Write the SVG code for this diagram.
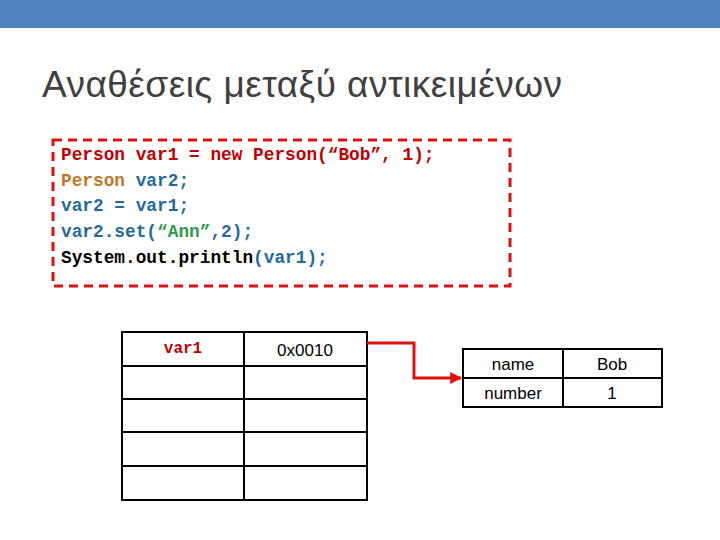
<svg xmlns="http://www.w3.org/2000/svg" width="720" height="540" viewBox="0 0 720 540">
<defs>
<style>
.code{font-family:"Liberation Mono",monospace;font-weight:bold;font-size:17.8px}
.r{fill:#C00000}.o{fill:#C0762A}.b{fill:#1F6B9C}.g{fill:#2E9D4E}.k{fill:#000}
.cell{fill:#fff;stroke:#000;stroke-width:2}
.t{font-family:"Liberation Sans",Arial,sans-serif;font-size:17px;fill:#000;text-anchor:middle}
</style>
<marker id="ah" viewBox="0 0 10 10" refX="9" refY="5" markerWidth="4" markerHeight="4" orient="auto"><path d="M0,0L10,5L0,10z" fill="#E01010"/></marker>
</defs>
<rect width="720" height="540" fill="#fff"/>
<rect x="0" y="0" width="720" height="28" fill="#4F81BD"/>
<text x="42" y="97" font-family="Liberation Sans,Arial,sans-serif" font-size="37" fill="#404040" textLength="520">Αναθέσεις μεταξύ αντικειμένων</text>
<g id="code">
<rect x="53" y="140" width="457" height="146" fill="none" stroke="#E01010" stroke-width="3" stroke-dasharray="9,6"/>
<text class="code" x="61" y="160"><tspan class="r">Person var1 = new Person(“Bob”, 1);</tspan></text>
<text class="code" x="61" y="186"><tspan class="o">Person </tspan><tspan class="b">var2;</tspan></text>
<text class="code b" x="61" y="211">var2 = var1;</text>
<text class="code" x="61" y="237"><tspan class="b">var2.set(</tspan><tspan class="g">“Ann”</tspan><tspan class="b">,2);</tspan></text>
<text class="code" x="61" y="263"><tspan class="k">System.out.println</tspan><tspan class="b">(var1);</tspan></text>
</g>
<g id="stack">
<rect class="cell" x="122" y="332" width="122" height="34"/><rect class="cell" x="244" y="332" width="123" height="34"/>
<rect class="cell" x="122" y="366" width="122" height="33"/><rect class="cell" x="244" y="366" width="123" height="33"/>
<rect class="cell" x="122" y="399" width="122" height="33"/><rect class="cell" x="244" y="399" width="123" height="33"/>
<rect class="cell" x="122" y="432" width="122" height="34"/><rect class="cell" x="244" y="432" width="123" height="34"/>
<rect class="cell" x="122" y="466" width="122" height="34"/><rect class="cell" x="244" y="466" width="123" height="34"/>
<text class="code r" x="183" y="353" text-anchor="middle" style="font-size:16px">var1</text>
<text class="t" x="305" y="356">0x0010</text>
</g>
<g id="object">
<rect class="cell" x="463" y="349" width="100" height="29"/><rect class="cell" x="563" y="349" width="99" height="29"/>
<rect class="cell" x="463" y="378" width="100" height="29"/><rect class="cell" x="563" y="378" width="99" height="29"/>
<text class="t" x="513" y="370">name</text><text class="t" x="612" y="370">Bob</text>
<text class="t" x="513" y="399">number</text><text class="t" x="612" y="399">1</text>
</g>
<g id="connectors">
<path d="M367,343H414V378H461" fill="none" stroke="#E01010" stroke-width="3" marker-end="url(#ah)"/>
</g>
</svg>
